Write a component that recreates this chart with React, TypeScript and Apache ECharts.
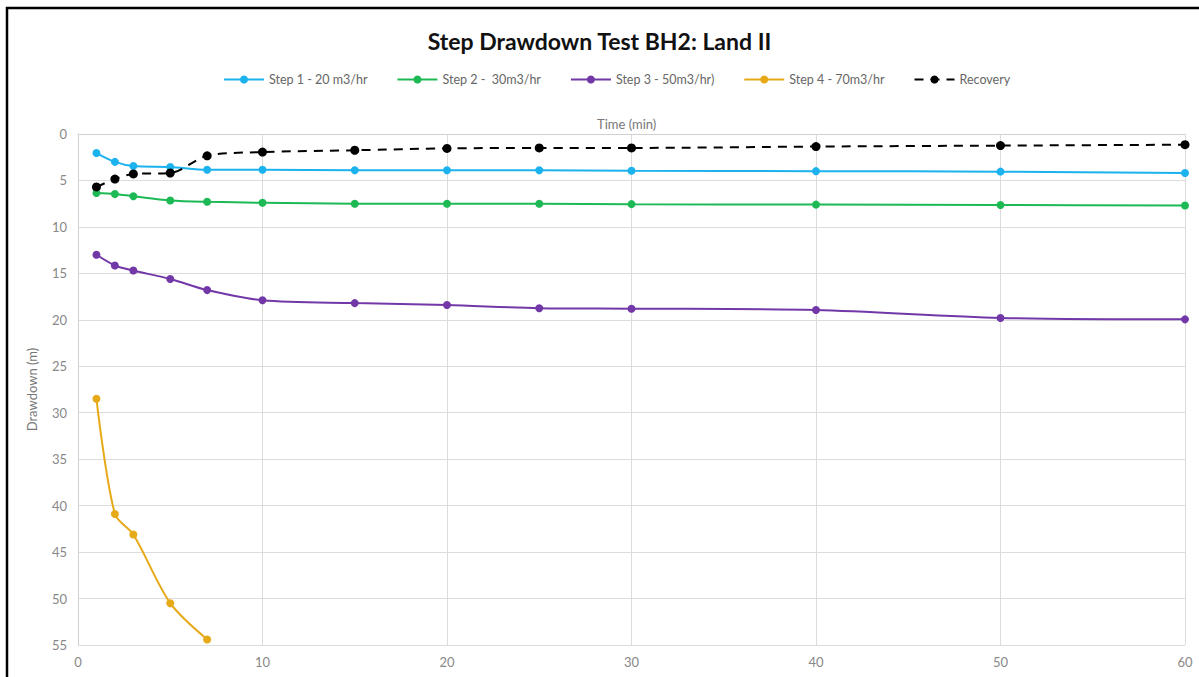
import React, { useEffect, useRef } from "react";
import * as echarts from "echarts";

const times = [1, 2, 3, 5, 7, 10, 15, 20, 25, 30, 40, 50, 60];
const step4Times = [1, 2, 3, 5, 7];
const step1 = [2.05, 3.0, 3.45, 3.55, 3.85, 3.85, 3.9, 3.9, 3.9, 3.95, 4.0, 4.05, 4.2];
const step2 = [6.35, 6.45, 6.7, 7.15, 7.3, 7.4, 7.5, 7.5, 7.5, 7.55, 7.6, 7.65, 7.7];
const step3 = [13.0, 14.15, 14.7, 15.6, 16.8, 17.9, 18.2, 18.4, 18.75, 18.8, 18.95, 19.8, 19.95];
const step4 = [28.5, 40.9, 43.1, 50.5, 54.4];
const recovery = [5.7, 4.85, 4.3, 4.2, 2.35, 1.95, 1.75, 1.55, 1.5, 1.5, 1.35, 1.25, 1.15];

const seriesNames = ["Step 1 - 20 m3/hr", "Step 2 -  30m3/hr", "Step 3 - 50m3/hr)", "Step 4 - 70m3/hr", "Recovery"];
const seriesColors = ["#1CB2EE", "#1DB954", "#7238A8", "#E6A917", "#000000"];

const FONT = "Lato, 'Open Sans', sans-serif";

function pairs(xs: number[], ys: number[]) {
  return xs.map((x, i) => [x, ys[i]]);
}

export default function App() {
  const ref = useRef<HTMLDivElement>(null);
  useEffect(() => {
    if (!ref.current) return;
    const chart = echarts.init(ref.current, null, { renderer: "svg" });
    const datasets = [
      pairs(times, step1),
      pairs(times, step2),
      pairs(times, step3),
      pairs(step4Times, step4),
      pairs(times, recovery),
    ];
    chart.setOption({
      animation: false,
      backgroundColor: "#ffffff",
      title: {
        text: "Step Drawdown Test BH2: Land II",
        left: "center",
        top: 24,
        textStyle: { fontFamily: FONT, fontSize: 23, fontWeight: "bold", color: "#111" },
      },
      legend: {
        top: 68,
        left: 218,
        itemWidth: 40,
        itemHeight: 10,
        itemGap: 29,
        textStyle: { fontFamily: FONT, fontSize: 12.5, color: "#666" },
        data: seriesNames,
      },
      grid: { left: 78, right: 14, top: 134, bottom: 32, containLabel: false },
      xAxis: {
        type: "value",
        min: 0,
        max: 60,
        interval: 10,
        axisLine: { show: true, lineStyle: { color: "#d0d0d0", width: 1 } },
        axisTick: { show: false },
        axisLabel: { color: "#888", fontFamily: FONT, fontSize: 13, margin: 10 },
        splitLine: { show: true, lineStyle: { color: "#dcdcdc", width: 1 } },
      },
      yAxis: {
        type: "value",
        inverse: true,
        min: 0,
        max: 55,
        interval: 5,
        name: "Drawdown (m)",
        nameLocation: "middle",
        nameRotate: 90,
        nameGap: 40,
        nameTextStyle: { color: "#777", fontFamily: FONT, fontSize: 13 },
        axisLine: { show: true, lineStyle: { color: "#d0d0d0", width: 1 } },
        axisTick: { show: false },
        axisLabel: { color: "#888", fontFamily: FONT, fontSize: 13, margin: 11 },
        splitLine: { show: true, lineStyle: { color: "#dcdcdc", width: 1 } },
      },
      graphic: [
        {
          type: "text",
          left: 597,
          top: 117,
          style: { text: "Time (min)", fill: "#777", font: `13px ${FONT}` },
        },
        {
          type: "line",
          shape: { x1: 6, y1: 8, x2: 1199, y2: 8 },
          style: { stroke: "#000", lineWidth: 2.5 },
        },
        {
          type: "line",
          shape: { x1: 7, y1: 7, x2: 7, y2: 677 },
          style: { stroke: "#000", lineWidth: 2.5 },
        },
      ],
      series: datasets.map((d, i) => ({
        name: seriesNames[i],
        type: "line",
        data: d,
        smooth: 0.3,
        symbol: "circle",
        symbolSize: i === 4 ? 9 : 8,
        itemStyle: { color: seriesColors[i] },
        lineStyle: {
          color: seriesColors[i],
          width: 2,
          type: i === 4 ? [9, 7] : "solid",
        },
        z: i === 4 ? 3 : 2,
      })),
    });
    return () => chart.dispose();
  }, []);
  return (
    <div style={{ position: "absolute", left: 0, top: 0, width: 1199, height: 677 }}>
      <div ref={ref} style={{ width: 1199, height: 677 }} />
    </div>
  );
}
